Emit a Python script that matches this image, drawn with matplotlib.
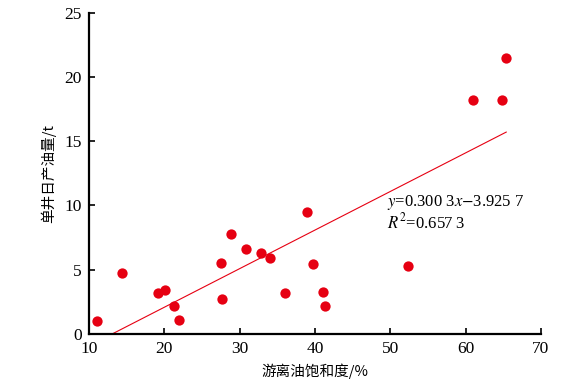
import numpy as np
import matplotlib
matplotlib.use("Agg")
import matplotlib.pyplot as plt

# free oil saturation (%) and single-well daily oil production (t)
saturation = [11.0, 14.4, 19.1, 20.1, 21.3, 21.9, 27.5, 27.7, 28.9, 30.9, 32.8,
              34.0, 36.0, 38.95, 39.8, 41.1, 41.4, 52.3, 61.0, 64.9, 65.4]
production = [1.0, 4.75, 3.2, 3.4, 2.15, 1.1, 5.55, 2.75, 7.75, 6.6, 6.3,
              5.9, 3.2, 9.5, 5.45, 3.3, 2.15, 5.3, 18.2, 18.2, 21.5]

slope = 0.3003
intercept = -3.9257
x_ticks = [10, 20, 30, 40, 50, 60, 70]
y_ticks = [0, 5, 10, 15, 20, 25]

plt.rcParams['mathtext.fontset'] = 'stix'
serif = ['Liberation Serif', 'DejaVu Serif']
cjk = ['Noto Sans CJK SC', 'DejaVu Sans']
red = '#e60012'

fig = plt.figure(figsize=(5.76, 3.87), dpi=100)
ax = fig.add_axes([0.1545, 0.137, 0.7845, 0.83])

ax.scatter(saturation, production, s=55, color=red, zorder=3, linewidths=0)

x_fit = np.array([-intercept / slope, max(saturation)])
ax.plot(x_fit, slope * x_fit + intercept, color=red, lw=0.8, zorder=2)

ax.text(49.6, 10.2, r'$y$=0.300 3$x$$-$3.925 7', fontsize=12, family=serif,
        va='center', ha='left')
ax.text(49.6, 8.65, r'$R^2$=0.657 3', fontsize=12, family=serif,
        va='center', ha='left')

ax.set_xlim(10, 70)
ax.set_ylim(0, 25)
ax.set_xticks(x_ticks)
ax.set_yticks(y_ticks)
for lab in ax.get_xticklabels() + ax.get_yticklabels():
    lab.set_family(serif)
    lab.set_fontsize(12.5)

ax.tick_params(direction='in', length=4, width=1.2, pad=5)
ax.spines['top'].set_visible(False)
ax.spines['right'].set_visible(False)
ax.spines['left'].set_linewidth(1.6)
ax.spines['bottom'].set_linewidth(1.6)

ax.set_xlabel('游离油饱和度/%', family=cjk, fontsize=10.5, labelpad=5)
ax.set_ylabel('单井日产油量/t', family=cjk, fontsize=10.5, labelpad=6)

fig.savefig('out.png', dpi=100)
plt.close(fig)
